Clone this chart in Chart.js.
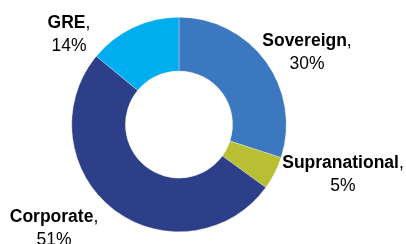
<!DOCTYPE html>
<html>
<head>
<meta charset="utf-8">
<script src="https://cdn.jsdelivr.net/npm/chart.js@4"></script>
<style>
html,body{margin:0;padding:0;background:#fff;}
#wrap{width:406px;height:244px;position:relative;}
</style>
</head>
<body>
<div id="wrap"><canvas id="c"></canvas></div>
<script>
const categories=['Sovereign','Supranational','Corporate','GRE'];
const shares=[30,5,51,14];
const colors=['#3c78bf','#b8bf33','#2e3f8a','#00aeef'];

// label anchor offsets from doughnut centre (px), Excel-style placement
const labelPos=[[128,-72],[164,50],[-125,104],[-110,-90]];

const sliceLabels={
  id:'sliceLabels',
  afterDatasetsDraw(chart){
    const ctx=chart.ctx;
    const arc=chart.getDatasetMeta(0).data[0];
    const cx=arc.x, cy=arc.y;
    const bold='bold 17.5px "Liberation Sans", Arial, sans-serif';
    const reg='17.5px "Liberation Sans", Arial, sans-serif';
    ctx.save();
    ctx.fillStyle='#000';
    ctx.textBaseline='middle';
    categories.forEach((name,i)=>{
      const x=cx+labelPos[i][0], y=cy+labelPos[i][1];
      ctx.font=bold;
      const w1=ctx.measureText(name).width;
      ctx.font=reg;
      const w2=ctx.measureText(',').width;
      const start=x-(w1+w2)/2;
      ctx.textAlign='left';
      ctx.font=bold;
      ctx.fillText(name,start,y-11.5);
      ctx.font=reg;
      ctx.fillText(',',start+w1,y-11.5);
      ctx.textAlign='center';
      ctx.fillText(shares[i]+'%',x,y+11.5);
    });
    ctx.restore();
  }
};

new Chart(document.getElementById('c'),{
  type:'doughnut',
  data:{labels:categories,datasets:[{data:shares,backgroundColor:colors,borderColor:'rgba(255,255,255,0.6)',borderWidth:0.5}]},
  options:{
    responsive:true,maintainAspectRatio:false,animation:false,
    cutout:'50%',
    layout:{padding:{left:71,right:119,top:17,bottom:12}},
    plugins:{legend:{display:false},tooltip:{enabled:false}}
  },
  plugins:[sliceLabels]
});
</script>
</body>
</html>
